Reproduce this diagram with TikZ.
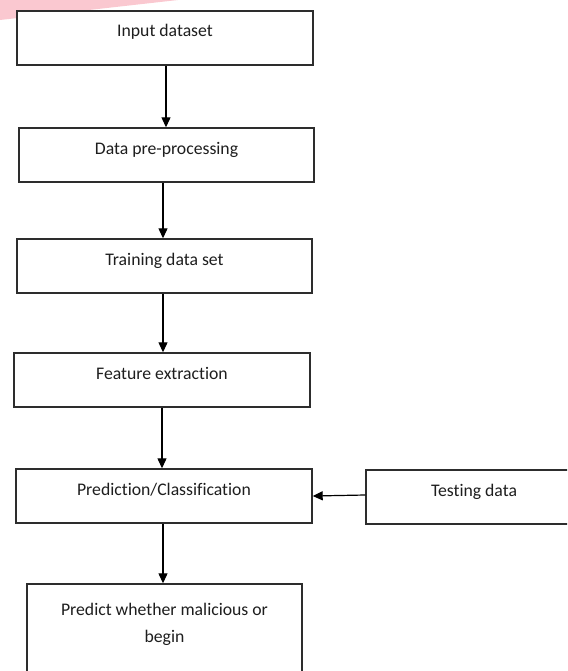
\documentclass[tikz,border=0pt]{standalone}
\usepackage{fontspec}
\setmainfont[Ligatures=NoCommon]{Carlito}
\usepackage{tikz}
\usetikzlibrary{arrows.meta}

\definecolor{boxline}{RGB}{45,45,45}
\definecolor{inktext}{RGB}{30,30,30}
\definecolor{corner}{RGB}{250,200,208}

\tikzset{
  stepbox/.style={draw=boxline, line width=1.4pt, fill=white, text=inktext,
    minimum height=54pt, inner sep=0pt, align=center,
    text height=12pt, text depth=14pt,
    font=\fontsize{17.7}{27}\selectfont},
  flow/.style={draw=black, line width=1.2pt, -{Triangle[length=10pt,width=9pt]}}
}

\begin{document}
\begin{tikzpicture}[x=1pt, y=-1pt]
\useasboundingbox (0,0) rectangle (567,671);
\clip (0,0) rectangle (567,671);
\fill[corner] (0,0) -- (178,0) -- (0,20) -- cycle;

\node[stepbox, minimum width=296pt] (input) at (165,38) {Input dataset};
\node[stepbox, minimum width=295pt] (prep) at (166.5,155) {Data pre-processing};
\node[stepbox, minimum width=295pt] (train) at (164.5,266) {Training data set};
\node[stepbox, minimum width=296pt] (feat) at (162,380) {Feature extraction};
\node[stepbox, minimum width=296pt] (pred) at (164,496) {Prediction/Classification};
\node[stepbox, minimum width=216pt] (test) at (474,497) {Testing data};
\node[stepbox, minimum width=275pt, minimum height=90pt,
  text height=39pt, text depth=12pt] (out) at (164.5,629)
  {Predict whether malicious or\\ begin};

\draw[flow] (input.south -| 166,0) -- (prep.north -| 166,0);
\draw[flow] (prep.south -| 163,0) -- (train.north -| 163,0);
\draw[flow] (train.south -| 163,0) -- (feat.north -| 163,0);
\draw[flow] (feat.south -| 162,0) -- (pred.north -| 162,0);
\draw[flow] (pred.south -| 163,0) -- (out.north -| 163,0);
\draw[flow] (test.west |- 0,495) -- (pred.east |- 0,496);
\end{tikzpicture}
\end{document}
